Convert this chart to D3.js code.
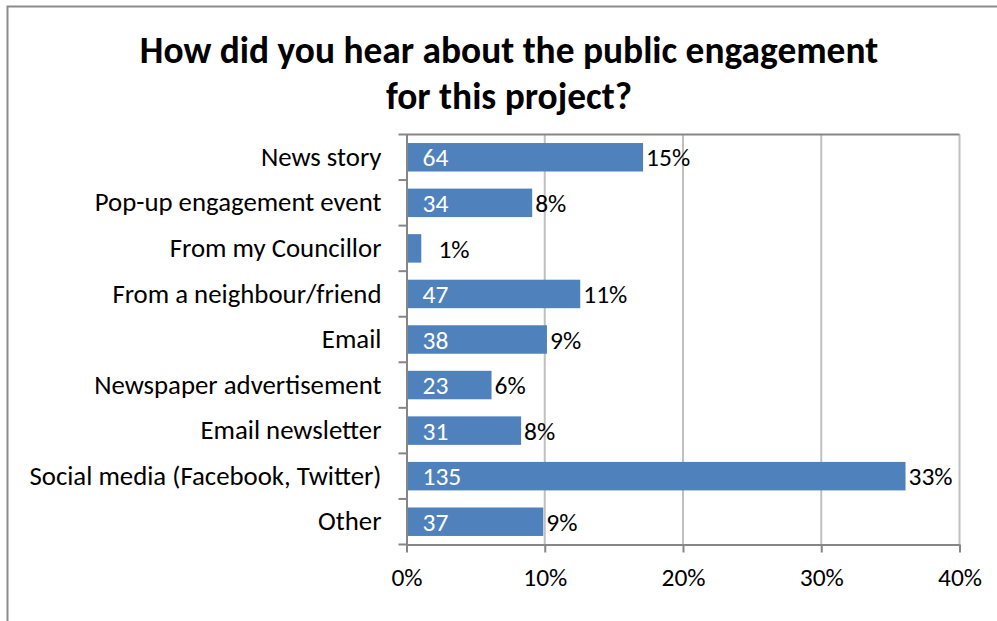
<!DOCTYPE html>
<html>
<head>
<meta charset="utf-8">
<script src="https://cdn.jsdelivr.net/npm/d3@7"></script>
<style>
  html, body { margin: 0; padding: 0; background: #ffffff; }
  svg { display: block; }
  text { font-family: Carlito, Calibri, Lato, "Open Sans", sans-serif; }
</style>
</head>
<body>
<svg id="chart" width="997" height="621"></svg>
<script>
// Survey answers, top to bottom
const categories = [
  "News story",
  "Pop-up engagement event",
  "From my Councillor",
  "From a neighbour/friend",
  "Email",
  "Newspaper advertisement",
  "Email newsletter",
  "Social media (Facebook, Twitter)",
  "Other"
];
// Number of respondents per answer
const counts = [64, 34, 4, 47, 38, 23, 31, 135, 37];
// Respondent base the bars are measured against
const respondentBase = 374;
// Percentage labels as printed next to each bar
const percentLabels = ["15%", "8%", "1%", "11%", "9%", "6%", "8%", "33%", "9%"];
// Axis ticks (share of respondents)
const xTicks = [0, 0.1, 0.2, 0.3, 0.4];
const titleLines = ["How did you hear about the public engagement", "for this project?"];

const svg = d3.select("#chart");
const W = 997, H = 621;
const plot = { left: 406.5, right: 959.5, top: 134.5, bottom: 544.5 };
const FONT = "Carlito, Calibri, Lato, 'Open Sans', sans-serif";
const labelSize = 26.8;
const numberSize = 25.5;

const barColor = "#4f81bd";
const gridColor = "#c0c0c0";
const axisColor = "#868686";

// Outer chart frame (only top and left edges fall inside the view)
svg.append("path")
  .attr("d", `M7.5,${H} V6.5 H${W}`)
  .attr("fill", "none")
  .attr("stroke", "#8c8c8c")
  .attr("stroke-width", 2);

// Title
svg.append("g").selectAll("text")
  .data(titleLines)
  .join("text")
  .attr("x", 509)
  .attr("y", (d, i) => 63 + i * 46)
  .attr("text-anchor", "middle")
  .attr("font-size", 37.4)
  .attr("font-weight", "bold")
  .attr("fill", "#000")
  .text(d => d);

const x = d3.scaleLinear().domain([0, 0.4]).range([plot.left, plot.right]);
const y = d3.scaleBand()
  .domain(categories)
  .range([plot.top, plot.bottom])
  .paddingInner(0.375)
  .paddingOuter(0.1875);

// Vertical gridlines
svg.append("g").selectAll("line")
  .data(xTicks.filter(t => t > 0))
  .join("line")
  .attr("x1", d => x(d)).attr("x2", d => x(d))
  .attr("y1", plot.top).attr("y2", plot.bottom)
  .attr("stroke", gridColor)
  .attr("stroke-width", 2);

// Top edge of the plot area
svg.append("line")
  .attr("x1", plot.left - 8).attr("x2", plot.right)
  .attr("y1", plot.top).attr("y2", plot.top)
  .attr("stroke", axisColor).attr("stroke-width", 2);

// Bars
const rows = categories.map((c, i) => ({
  cat: c, count: counts[i], share: counts[i] / respondentBase, pct: percentLabels[i]
}));

svg.append("g").selectAll("rect")
  .data(rows)
  .join("rect")
  .attr("x", x(0))
  .attr("y", d => y(d.cat))
  .attr("width", d => x(d.share) - x(0))
  .attr("height", y.bandwidth())
  .attr("fill", barColor);

// Count labels inside the bars
const countText = svg.append("g").selectAll("text")
  .data(rows)
  .join("text")
  .attr("x", x(0) + 16)
  .attr("y", d => y(d.cat) + y.bandwidth() / 2)
  .attr("dy", "0.36em")
  .attr("font-size", numberSize)
  .attr("fill", "#ffffff")
  .text(d => d.count);

// Percentage labels after the bar (or after the count when the bar is short)
const countEnds = [];
countText.each(function (d, i) { countEnds[i] = x(0) + 16 + this.getComputedTextLength(); });

svg.append("g").selectAll("text")
  .data(rows)
  .join("text")
  .attr("x", (d, i) => Math.max(x(d.share), countEnds[i]) + 3)
  .attr("y", d => y(d.cat) + y.bandwidth() / 2)
  .attr("dy", "0.36em")
  .attr("font-size", numberSize)
  .attr("fill", "#000")
  .text(d => d.pct);

// Category axis
const yAxis = svg.append("g")
  .attr("transform", `translate(${plot.left},0)`)
  .call(d3.axisLeft(y).tickSize(0).tickPadding(25));
yAxis.select(".domain").attr("stroke", axisColor).attr("stroke-width", 2);
yAxis.selectAll("text").attr("font-size", labelSize).attr("fill", "#000")
  .attr("font-family", FONT);

// Tick marks between categories
const boundaries = categories.map((c, i) => plot.top + i * y.step()).concat([plot.bottom]);
svg.append("g").selectAll("line")
  .data(boundaries.slice(1))
  .join("line")
  .attr("x1", plot.left - 8).attr("x2", plot.left)
  .attr("y1", d => d).attr("y2", d => d)
  .attr("stroke", axisColor).attr("stroke-width", 2);

// Value axis
const xAxis = svg.append("g")
  .attr("transform", `translate(0,${plot.bottom})`)
  .call(d3.axisBottom(x).tickValues(xTicks).tickFormat(d3.format(".0%")).tickSizeInner(8).tickSizeOuter(0).tickPadding(15));
xAxis.select(".domain").attr("stroke", axisColor).attr("stroke-width", 2);
xAxis.selectAll(".tick line").attr("stroke", axisColor).attr("stroke-width", 2);
xAxis.selectAll("text").attr("font-size", numberSize).attr("fill", "#000")
  .attr("font-family", FONT);
</script>
</body>
</html>
